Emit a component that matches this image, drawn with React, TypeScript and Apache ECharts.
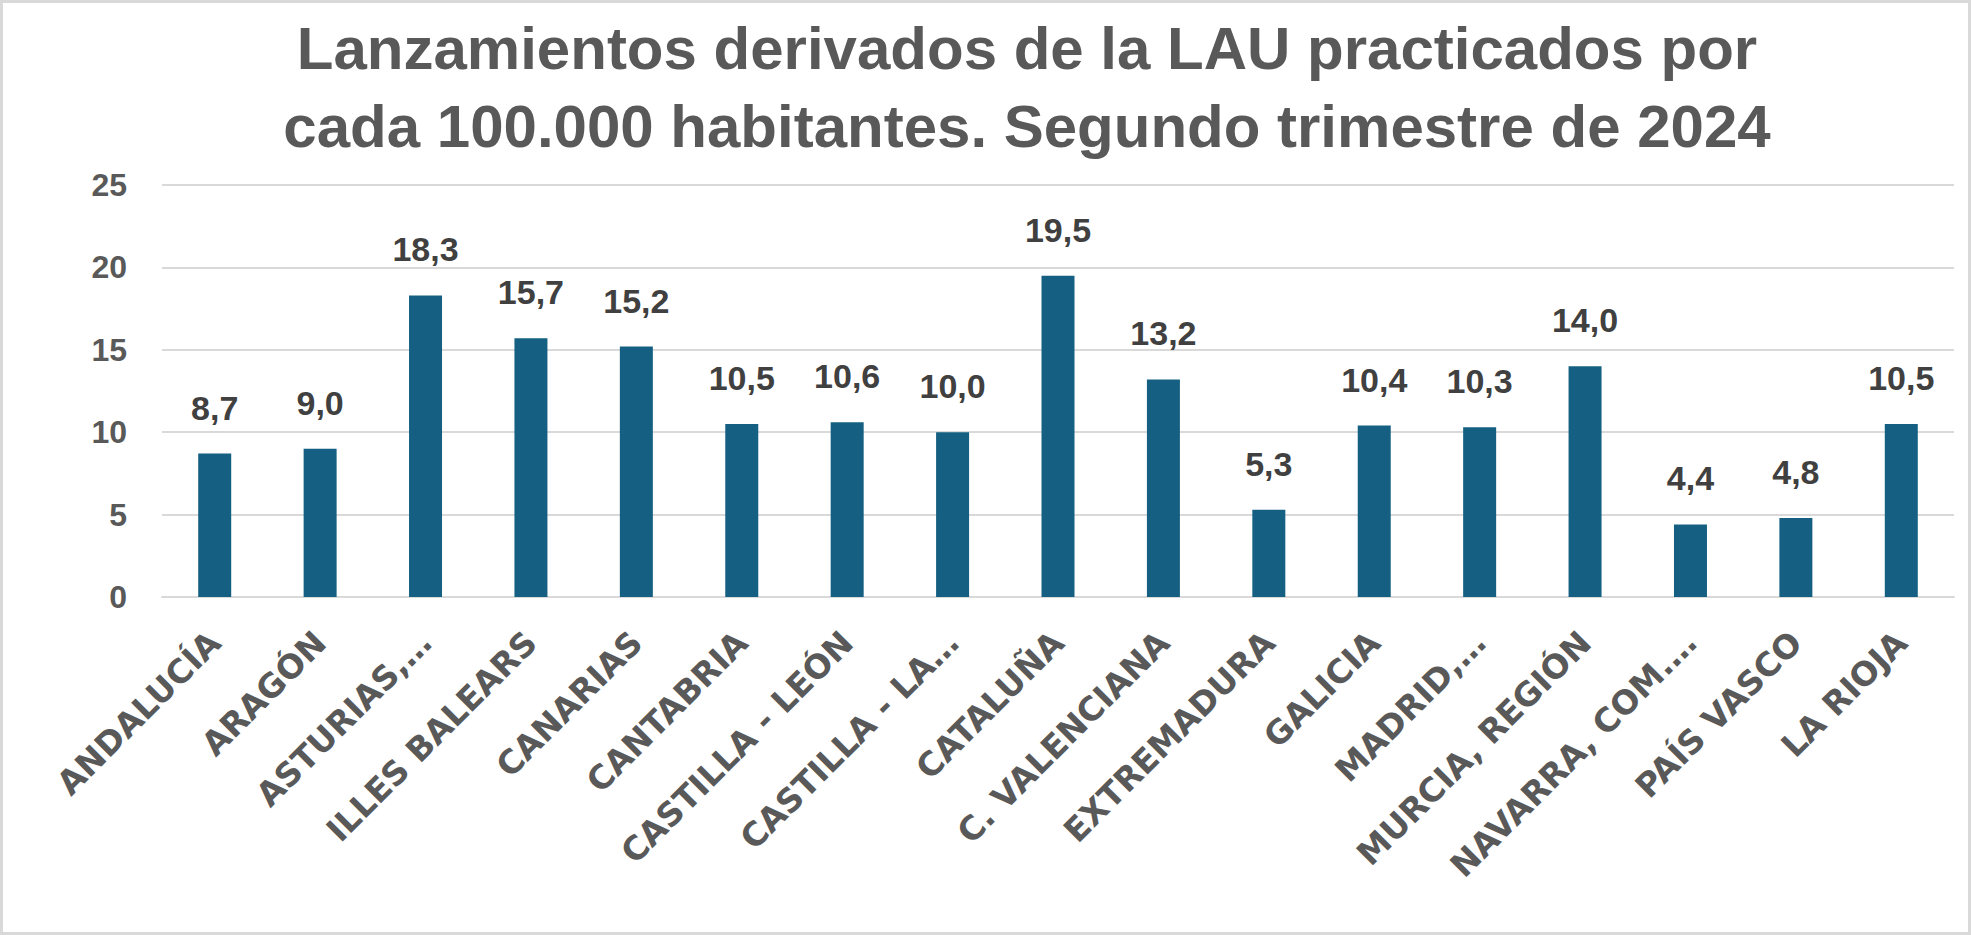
import React, { useEffect, useRef } from "react";
import * as echarts from "echarts";

const titleLines = [
  "Lanzamientos derivados de la LAU practicados por",
  "cada 100.000 habitantes. Segundo trimestre de 2024",
];

const categories = [
  "ANDALUCÍA",
  "ARAGÓN",
  "ASTURIAS,…",
  "ILLES BALEARS",
  "CANARIAS",
  "CANTABRIA",
  "CASTILLA - LEÓN",
  "CASTILLA - LA…",
  "CATALUÑA",
  "C. VALENCIANA",
  "EXTREMADURA",
  "GALICIA",
  "MADRID,…",
  "MURCIA, REGIÓN",
  "NAVARRA, COM.…",
  "PAÍS VASCO",
  "LA RIOJA",
];

const values = [8.7, 9.0, 18.3, 15.7, 15.2, 10.5, 10.6, 10.0, 19.5, 13.2, 5.3, 10.4, 10.3, 14.0, 4.4, 4.8, 10.5];

const yTicks = [0, 5, 10, 15, 20, 25];

const FONT = '"Liberation Sans", Arial, sans-serif';
const XFONT = '"DejaVu Sans", Verdana, sans-serif';

export default function App() {
  const ref = useRef<HTMLDivElement>(null);

  useEffect(() => {
    document.body.style.margin = "0";
    if (!ref.current) return;
    const chart = echarts.init(ref.current, null, { renderer: "svg" });
    chart.setOption({
      animation: false,
      backgroundColor: "#ffffff",
      textStyle: { fontFamily: FONT },
      graphic: [
        {
          type: "rect",
          shape: { x: 1.5, y: 1.5, width: 1968, height: 932 },
          style: { fill: "none", stroke: "#D9D9D9", lineWidth: 3 },
          silent: true,
        },
        {
          type: "text",
          x: 1027,
          y: 48,
          style: {
            text: titleLines[0],
            fill: "#595959",
            font: `bold 60px ${FONT}`,
            textAlign: "center",
            textVerticalAlign: "middle",
          },
        },
        {
          type: "text",
          x: 1027,
          y: 126,
          style: {
            text: titleLines[1],
            fill: "#595959",
            font: `bold 60px ${FONT}`,
            textAlign: "center",
            textVerticalAlign: "middle",
          },
        },
      ],
      grid: { left: 162, right: 17, top: 185, bottom: 338, containLabel: false },
      xAxis: {
        type: "category",
        data: categories,
        axisLine: { show: true, lineStyle: { color: "#D9D9D9", width: 2 } },
        axisTick: { show: false },
        axisLabel: {
          interval: 0,
          rotate: 45,
          margin: 40,
          color: "#595959",
          fontFamily: XFONT,
          fontWeight: "bold",
          fontSize: 33,
        },
      },
      yAxis: {
        type: "value",
        min: yTicks[0],
        max: yTicks[yTicks.length - 1],
        interval: 5,
        axisLine: { show: false },
        axisTick: { show: false },
        splitLine: { show: true, lineStyle: { color: "#D9D9D9", width: 2 } },
        axisLabel: {
          margin: 35,
          color: "#595959",
          fontFamily: FONT,
          fontWeight: "bold",
          fontSize: 32,
        },
      },
      series: [
        {
          type: "bar",
          data: values,
          barWidth: 33,
          itemStyle: { color: "#156082" },
          label: {
            show: true,
            position: "top",
            distance: 29,
            color: "#404040",
            fontFamily: FONT,
            fontWeight: "bold",
            fontSize: 34,
            formatter: (p: any) => Number(p.value).toFixed(1).replace(".", ","),
          },
        },
      ],
    });
    return () => chart.dispose();
  }, []);

  return <div ref={ref} style={{ width: 1971, height: 935 }} />;
}
